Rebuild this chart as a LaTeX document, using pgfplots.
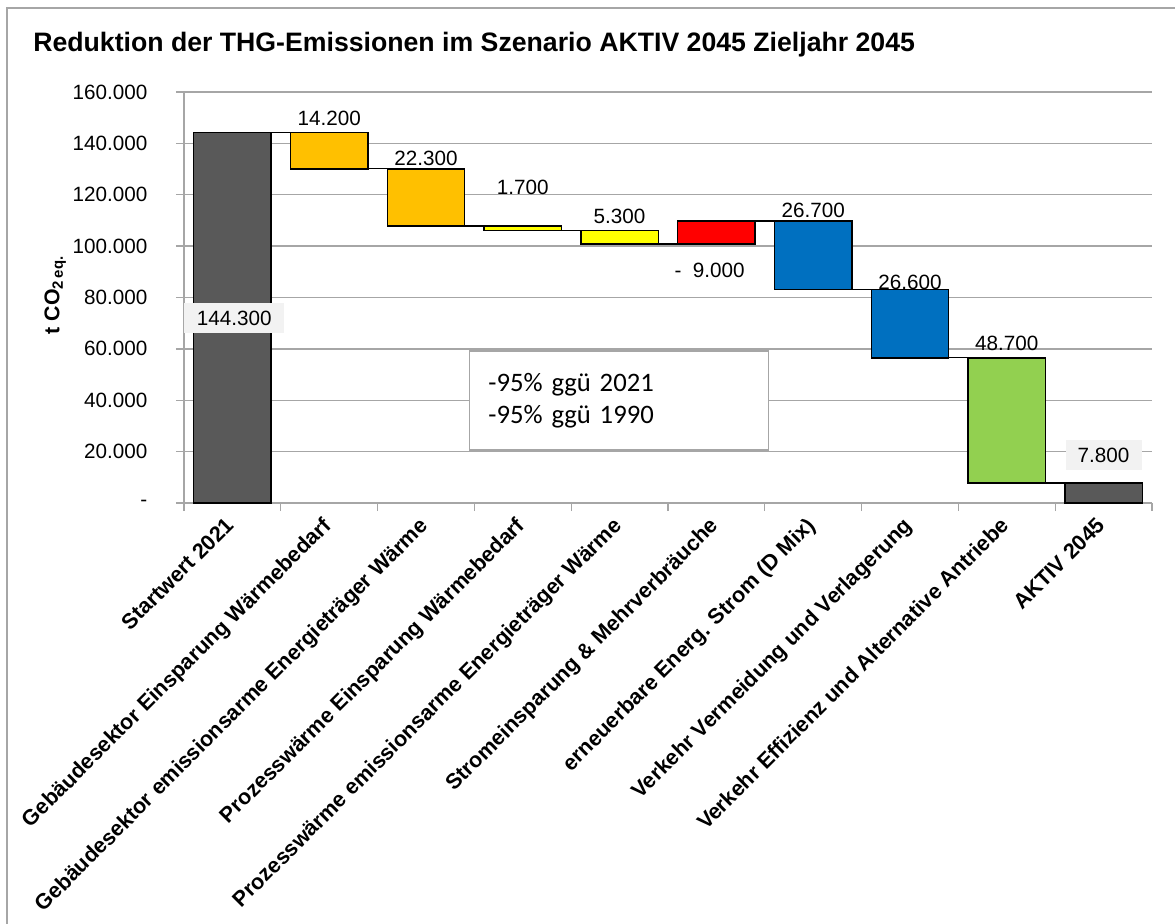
\documentclass[border=0pt]{standalone}
\usepackage{pgfplots}
\pgfplotsset{compat=1.18}
\usepackage{pgfplotstable}
\usepackage{fontspec}
\setmainfont{Liberation Sans}
\newfontfamily\calibri[WordSpace=0.85]{Carlito}
\definecolor{cgray}{HTML}{595959}
\definecolor{corange}{HTML}{FFC000}
\definecolor{cyellow}{HTML}{FFFF00}
\definecolor{cred}{HTML}{FF0000}
\definecolor{cblue}{HTML}{0070C0}
\definecolor{cgreen}{HTML}{92D050}
\definecolor{gridgray}{HTML}{A6A6A6}
\definecolor{lblbg}{HTML}{F2F2F2}

\pgfplotstableread{
x base gray orange yellow red blue green
0 0 144300 0 0 0 0 0
1 130100 0 14200 0 0 0 0
2 107800 0 22300 0 0 0 0
3 106100 0 0 1700 0 0 0
4 100800 0 0 5300 0 0 0
5 100800 0 0 0 9000 0 0
6 83100 0 0 0 0 26700 0
7 56500 0 0 0 0 26600 0
8 7800 0 0 0 0 0 48700
9 0 7800 0 0 0 0 0
}\wf

\pgfplotstableread{
x y
0.4 144300
0.6 144300
nan nan
1.4 130100
1.6 130100
nan nan
2.4 107800
2.6 107800
nan nan
3.4 106100
3.6 106100
nan nan
4.4 100800
4.6 100800
nan nan
5.4 109800
5.6 109800
nan nan
6.4 83100
6.6 83100
nan nan
7.4 56500
7.6 56500
nan nan
8.4 7800
8.6 7800
}\conn

\begin{document}
\begin{tikzpicture}
\path[use as bounding box] (0,0) rectangle (881.25pt,-693pt);
\draw[gridgray, line width=1.3pt] (5.5pt,-700pt) -- (5.5pt,-6pt) -- (890pt,-6pt);
\node[anchor=west, inner sep=0pt, font=\bfseries\fontsize{20}{24}\selectfont] at (24.75pt,-33.75pt) {Reduktion der THG-Emissionen im Szenario AKTIV 2045 Zieljahr 2045};

\pgfplotsset{wfaxis/.style={
  at={(138pt,-377.25pt)}, anchor=south west,
  scale only axis, width=726pt, height=308.25pt,
  xmin=-0.5, xmax=9.5, ymin=0, ymax=160000,
}}

\begin{axis}[wfaxis,
  ybar stacked, bar width=0.8,
  scaled ticks=false,
  axis x line*=bottom, axis y line*=left,
  axis line style={draw=gridgray, line width=1pt, -},
  ymajorgrids, grid style={draw=gridgray, line width=1pt},
  ytick={0,20000,40000,60000,80000,100000,120000,140000,160000},
  yticklabels={-,20.000,40.000,60.000,80.000,100.000,120.000,140.000,160.000},
  xtick={-0.5,0.5,1.5,2.5,3.5,4.5,5.5,6.5,7.5,8.5,9.5},
  xticklabels={,,,,,,,,,,},
  extra x ticks={0,1,2,3,4,5,6,7,8,9},
  extra x tick labels={Startwert 2021,Gebäudesektor Einsparung Wärmebedarf,Gebäudesektor emissionsarme Energieträger Wärme,Prozesswärme Einsparung Wärmebedarf,Prozesswärme emissionsarme Energieträger Wärme,Stromeinsparung \& Mehrverbräuche,erneuerbare Energ. Strom (D Mix),Verkehr Vermeidung und Verlagerung,Verkehr Effizienz und Alternative Antriebe,AKTIV 2045},
  extra x tick style={major tick length=0pt, xticklabel style={font=\bfseries\fontsize{16.2}{19}\selectfont, xshift=-6pt, yshift=-8pt, rotate=45, anchor=north east, inner sep=1pt}},
  tick align=outside, major tick length=6pt,
  every tick/.style={draw=gridgray, line width=1pt},
  yticklabel style={font=\fontsize{15.5}{18}\selectfont, xshift=-18pt},
  ylabel={t CO\textsubscript{2\,eq.}},
  every axis y label/.style={at={(rel axis cs:-0.133,0.506)}, rotate=90, anchor=center, font=\bfseries\fontsize{16}{19}\selectfont},
  clip=false,
]
\addplot[draw=none, fill=none] table[x=x, y=base] {\wf};
\addplot[draw=black, line width=1.1pt, fill=cgray] table[x=x, y=gray] {\wf};
\addplot[draw=black, line width=1.1pt, fill=corange] table[x=x, y=orange] {\wf};
\addplot[draw=black, line width=1.1pt, fill=cyellow] table[x=x, y=yellow] {\wf};
\addplot[draw=black, line width=1.1pt, fill=cred] table[x=x, y=red] {\wf};
\addplot[draw=black, line width=1.1pt, fill=cblue] table[x=x, y=blue] {\wf};
\addplot[draw=black, line width=1.1pt, fill=cgreen] table[x=x, y=green] {\wf};
\end{axis}

\begin{axis}[wfaxis, hide axis, clip=false, unbounded coords=jump]
\addplot[black, line width=0.9pt, mark=none] table[x=x, y=y] {\conn};
\begin{scope}[every node/.style={font=\fontsize{15.5}{18}\selectfont}]
\node at (axis cs:1,149900) {14.200};
\node at (axis cs:2,134300) {22.300};
\node at (axis cs:3,123000) {1.700};
\node at (axis cs:4,111700) {5.300};
\node at (axis cs:4.93,90700) {-\ \ 9.000};
\node at (axis cs:6,114100) {26.700};
\node at (axis cs:7,86000) {26.600};
\node at (axis cs:8,62300) {48.700};
\node[fill=lblbg, minimum width=75pt, minimum height=23pt] at (axis cs:0.02,72050) {144.300};
\node[fill=lblbg, minimum width=57pt, minimum height=23pt] at (axis cs:9,18700) {7.800};
\end{scope}
\node[draw=gridgray, line width=1pt, fill=white, minimum width=223.5pt, minimum height=74.25pt, text width=196pt, inner xsep=14pt, align=left, font=\calibri\fontsize{20}{24}\selectfont] at (axis cs:3.994,39900) {-95\% ggü 2021\\-95\% ggü 1990};
\end{axis}
\end{tikzpicture}
\end{document}
